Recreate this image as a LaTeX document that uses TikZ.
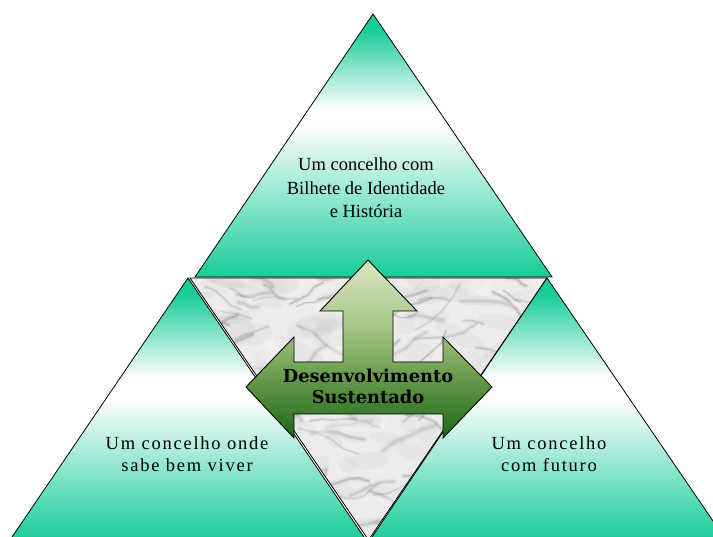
\documentclass[tikz,border=0pt]{standalone}
\usepackage{fontspec}
\setmainfont{Liberation Serif}
\newfontfamily\spacedserif[LetterSpace=9.5]{Liberation Serif}
\newfontfamily\arrowserif{DejaVu Serif}
\definecolor{tealA}{RGB}{24,204,153}
\definecolor{arrA}{RGB}{216,232,194}
\definecolor{arrB}{RGB}{164,196,132}
\definecolor{arrC}{RGB}{94,148,68}
\definecolor{arrD}{RGB}{26,104,26}
\definecolor{marbleBase}{RGB}{236,236,236}
\definecolor{marbleVein}{RGB}{110,110,110}
\pgfdeclareverticalshading{topfade}{100bp}{color(0bp)=(tealA); color(25bp)=(tealA); color(54bp)=(white); color(57bp)=(white); color(72bp)=(tealA); color(100bp)=(tealA)}
\pgfdeclareverticalshading{lowfade}{100bp}{color(0bp)=(tealA); color(25bp)=(tealA); color(52bp)=(white); color(56bp)=(white); color(72bp)=(tealA); color(100bp)=(tealA)}
\pgfdeclareverticalshading{arrowfade}{100bp}{color(0bp)=(arrD); color(25bp)=(arrD); color(40bp)=(arrC); color(55.5bp)=(arrB); color(75bp)=(arrA); color(100bp)=(arrA)}
\tikzset{
  tri/.style={draw=black, line width=0.8pt, line join=miter},
  toptri/.style={tri, shading=topfade},
  lowtri/.style={tri, shading=lowfade},
  arrowshape/.style={draw=black, line width=0.9pt, shading=arrowfade, line join=miter},
  toptext/.style={align=center, inner sep=0pt, font=\fontsize{18.5}{23.5}\selectfont},
  lowtext/.style={align=center, inner sep=0pt, font=\spacedserif\fontsize{18.5}{22}\selectfont},
  arrowtext/.style={align=center, inner sep=0pt, font=\arrowserif\bfseries\fontsize{17.8}{21}\selectfont},
  vein/.style={draw=marbleVein, line cap=round, line join=round}
}
\begin{document}
\begin{tikzpicture}[x=1pt,y=-1pt]
\useasboundingbox (0,0) rectangle (713,537);
\clip (0,0) rectangle (713,537);
\fill[white] (0,0) rectangle (713,537);
% vertices
\coordinate (mA) at (190,278);
\coordinate (mB) at (547,278);
\coordinate (mC) at (368.5,540);
\coordinate (tA) at (373,14);
\coordinate (tB) at (195,277);
\coordinate (tC) at (552,277);
\coordinate (lA) at (188,278);
\coordinate (lB) at (10,540);
\coordinate (lC) at (366,540);
\coordinate (rA) at (547,278);
\coordinate (rB) at (370,540);
\coordinate (rC) at (726,540);
% marble triangle
\begin{scope}
  \clip (mA) -- (mB) -- (mC) -- cycle;
  \fill[marbleBase] (180,270) rectangle (560,545);
  \pgfmathsetseed{42}
  \foreach \i in {1,...,120}{
    \pgfmathsetmacro{\xa}{170+390*rnd}
    \pgfmathsetmacro{\ya}{272+270*rnd}
    \pgfmathsetmacro{\rx}{8+22*rnd}
    \pgfmathsetmacro{\ry}{4+8*rnd}
    \pgfmathsetmacro{\rot}{-30+50*rnd}
    \fill[marbleVein, opacity=0.045, rotate around={\rot:(\xa,\ya)}] (\xa,\ya) ellipse[x radius=\rx, y radius=\ry];
  }
  \foreach \i in {1,...,150}{
    \pgfmathsetmacro{\xa}{170+390*rnd}
    \pgfmathsetmacro{\ya}{272+270*rnd}
    \pgfmathsetmacro{\an}{-40+70*rnd}
    \pgfmathsetmacro{\ln}{5+12*rnd}
    \pgfmathsetmacro{\bn}{\an+60*rnd-30}
    \pgfmathsetmacro{\cn}{\bn+60*rnd-30}
    \pgfmathsetmacro{\dn}{\cn+60*rnd-30}
    \pgfmathsetmacro{\lw}{0.8+2.2*rnd}
    \pgfmathsetmacro{\op}{0.08+0.18*rnd}
    \draw[vein, line width=3*\lw pt, opacity=0.035] (\xa,\ya) -- ++(\an:\ln) -- ++(\bn:\ln) -- ++(\cn:\ln) -- ++(\dn:\ln);
    \draw[vein, line width=1.8*\lw pt, opacity=0.05] (\xa,\ya) -- ++(\an:\ln) -- ++(\bn:\ln) -- ++(\cn:\ln) -- ++(\dn:\ln);
    \draw[vein, line width=\lw pt, opacity=\op] (\xa,\ya) -- ++(\an:\ln) -- ++(\bn:\ln) -- ++(\cn:\ln) -- ++(\dn:\ln);
  }
  \foreach \i in {1,...,60}{
    \pgfmathsetmacro{\xa}{170+390*rnd}
    \pgfmathsetmacro{\ya}{272+270*rnd}
    \pgfmathsetmacro{\r}{3+7*rnd}
    \fill[white, opacity=0.12] (\xa,\ya) circle[radius=1.6*\r];
    \fill[white, opacity=0.12] (\xa,\ya) circle[radius=\r];
  }
\end{scope}
\draw[tri] (mA) -- (mB) -- (mC) -- cycle;
% teal triangles
\path[toptri] (tA) -- (tB) -- (tC) -- cycle;
\path[lowtri] (lA) -- (lB) -- (lC) -- cycle;
\path[lowtri] (rA) -- (rB) -- (rC) -- cycle;
% arrow
\path[arrowshape] (368,260) -- (417,311) -- (393,311) -- (393,362) -- (443,362) -- (443,337)
  -- (492,387) -- (443,438) -- (443,414) -- (294,414) -- (294,438) -- (246,387)
  -- (294,337) -- (294,362) -- (343,362) -- (343,311) -- (320,311) -- cycle;
% texts
\node[toptext] (topt) at (366,188) {Um concelho com\\Bilhete de Identidade\\e História};
\node[lowtext] (leftt) at (187,454) {Um concelho onde\\sabe bem viver};
\node[lowtext] (rightt) at (549,454) {Um concelho\\com futuro};
\node[arrowtext] (devt) at (368,386) {Desenvolvimento\\Sustentado};
\end{tikzpicture}
\end{document}
